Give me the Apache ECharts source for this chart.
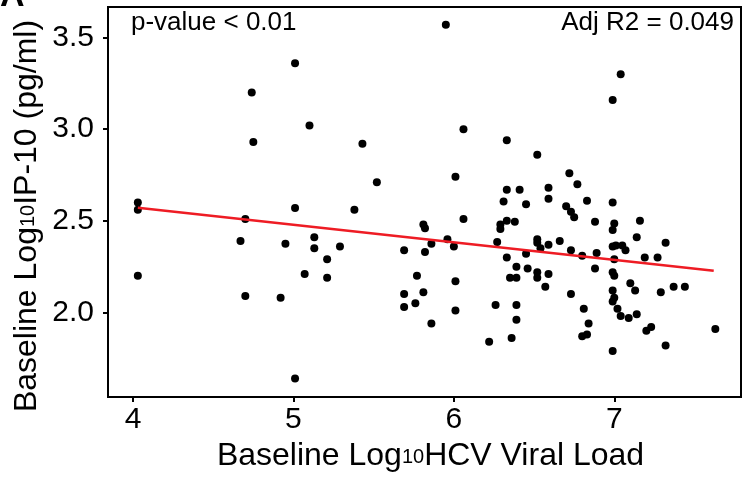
<!DOCTYPE html>
<html>
<head>
<meta charset="utf-8">
<script src="https://cdn.jsdelivr.net/npm/echarts@6/dist/echarts.min.js"></script>
<style>
html,body{margin:0;padding:0;background:#fff;}
#chart{width:743px;height:477px;}
</style>
</head>
<body>
<div id="chart"></div>
<script>
// Baseline Log10 HCV viral load (x) and Log10 IP-10 (y)
const xValues = [
  5.01,4.74,5.10,4.75,5.43,5.52,4.03,4.03,5.01,5.38,4.70,4.67,4.95,5.13,5.13,5.29,5.21,4.03,5.07,5.21,4.70,4.92,5.01,
  5.95,7.04,6.99,6.06,6.33,6.52,6.72,6.77,6.01,6.33,6.41,6.59,
  6.31,6.45,6.59,6.70,6.83,6.99,6.73,6.75,6.06,5.81,5.82,6.29,6.29,6.33,6.38,6.88,7.00,6.99,7.16,
  5.96,5.86,6.00,5.69,5.82,6.27,6.52,6.52,6.59,6.66,6.54,6.73,6.45,6.89,6.80,6.99,7.01,7.05,7.07,7.14,7.32,
  7.00,7.19,7.27,6.33,6.39,6.46,6.88,6.99,7.00,5.77,6.01,6.35,6.39,6.52,6.52,6.59,6.57,
  7.10,7.13,7.29,7.37,7.44,5.69,5.81,5.76,5.69,6.01,5.86,6.26,6.39,6.39,6.22,6.36,
  6.73,6.81,6.84,6.80,6.83,6.99,7.00,6.99,7.02,7.04,7.09,7.14,7.20,7.23,7.32,6.99,7.63
];
const yValues = [
  3.36,3.20,3.02,2.93,2.92,2.71,2.60,2.56,2.57,2.56,2.51,2.39,2.375,2.41,2.35,2.36,2.29,2.20,2.21,2.19,2.09,2.08,1.64,
  3.57,3.30,3.16,3.00,2.94,2.86,2.76,2.70,2.74,2.67,2.67,2.68,
  2.606,2.59,2.62,2.58,2.61,2.60,2.55,2.52,2.51,2.48,2.46,2.48,2.455,2.50,2.495,2.495,2.485,2.45,2.50,
  2.40,2.375,2.36,2.34,2.33,2.385,2.40,2.38,2.37,2.39,2.35,2.34,2.32,2.325,2.31,2.36,2.365,2.365,2.34,2.41,2.38,
  2.29,2.30,2.30,2.30,2.25,2.24,2.24,2.22,2.20,2.20,2.17,2.19,2.19,2.22,2.19,2.21,2.14,
  2.16,2.12,2.11,2.14,2.14,2.10,2.11,2.05,2.03,2.01,1.94,2.04,2.04,1.96,1.84,1.86,
  2.10,2.02,1.94,1.87,1.88,2.12,2.08,2.06,2.02,1.98,1.97,1.99,1.90,1.92,1.82,1.79,1.91
];
// Regression line end points
const fitX = [4.03, 7.62];
const fitY = [2.572, 2.227];
// Tick labels
const xTicks = [4, 5, 6, 7];
const yTicks = [2.0, 2.5, 3.0, 3.5];
const pText = 'p-value < 0.01';
const r2Text = 'Adj R2 = 0.049';

const FONT = '"Liberation Sans", Arial, Helvetica, sans-serif';
const points = xValues.map((x, i) => [x, yValues[i]]);
const fitLine = fitX.map((x, i) => [x, fitY[i]]);

const chart = echarts.init(document.getElementById('chart'), null, {renderer: 'canvas'});
chart.setOption({
  animation: false,
  backgroundColor: '#fff',
  textStyle: {fontFamily: FONT},
  grid: {left: 108, right: 2, top: 7, bottom: 74, show: true, borderColor: '#000', borderWidth: 2, backgroundColor: '#fff'},
  xAxis: {
    type: 'value', min: 3.844, max: 7.79,
    axisLine: {show: true, lineStyle: {color: '#000', width: 2}},
    axisTick: {show: true, length: 5, lineStyle: {color: '#000', width: 2}, customValues: xTicks},
    axisLabel: {show: true, color: '#000', fontSize: 30, fontFamily: FONT, margin: 8, customValues: xTicks, formatter: v => String(v)},
    splitLine: {show: false},
    name: '{a|Baseline Log}{s|10}{a|HCV Viral Load}',
    nameLocation: 'middle', nameGap: 39,
    nameTextStyle: {
      color: '#000', fontFamily: FONT, padding: [0, 0, 0, 12],
      rich: {a: {fontSize: 32, color: '#000', fontFamily: FONT}, s: {fontSize: 20, color: '#000', fontFamily: FONT, padding: [0, 0, -2, 0]}}
    }
  },
  yAxis: {
    type: 'value', min: 1.538, max: 3.667,
    axisLine: {show: true, lineStyle: {color: '#000', width: 2}},
    axisTick: {show: true, length: 5, lineStyle: {color: '#000', width: 2}, customValues: yTicks},
    axisLabel: {show: true, color: '#000', fontSize: 30, fontFamily: FONT, margin: 14, customValues: yTicks, formatter: v => v.toFixed(1)},
    splitLine: {show: false}
  },
  graphic: [
    {type: 'text', left: 131, top: 10, style: {text: pText, font: '26px ' + FONT, fill: '#000'}},
    {type: 'text', right: 9, top: 10, style: {text: r2Text, font: '26px ' + FONT, fill: '#000'}},
    {type: 'text', left: 0, top: -20, style: {text: 'A', font: 'bold 34px ' + FONT, fill: '#000'}},
    {
      type: 'text', x: 27, y: 216, rotation: Math.PI / 2,
      style: {
        text: '{a|Baseline Log}{s|10}{a|IP-10 (pg/ml)}',
        align: 'center', verticalAlign: 'middle', fill: '#000',
        rich: {a: {fontSize: 32, fill: '#000', fontFamily: FONT}, s: {fontSize: 20, fill: '#000', fontFamily: FONT, padding: [0, 0, -2, 0]}}
      }
    }
  ],
  series: [
    {type: 'scatter', data: points, symbol: 'circle', symbolSize: 8, itemStyle: {color: '#000', opacity: 1}, z: 2},
    {type: 'line', data: fitLine, showSymbol: false, symbol: 'none', lineStyle: {color: '#ee1c24', width: 2.5}, z: 3}
  ]
});
</script>
</body>
</html>
